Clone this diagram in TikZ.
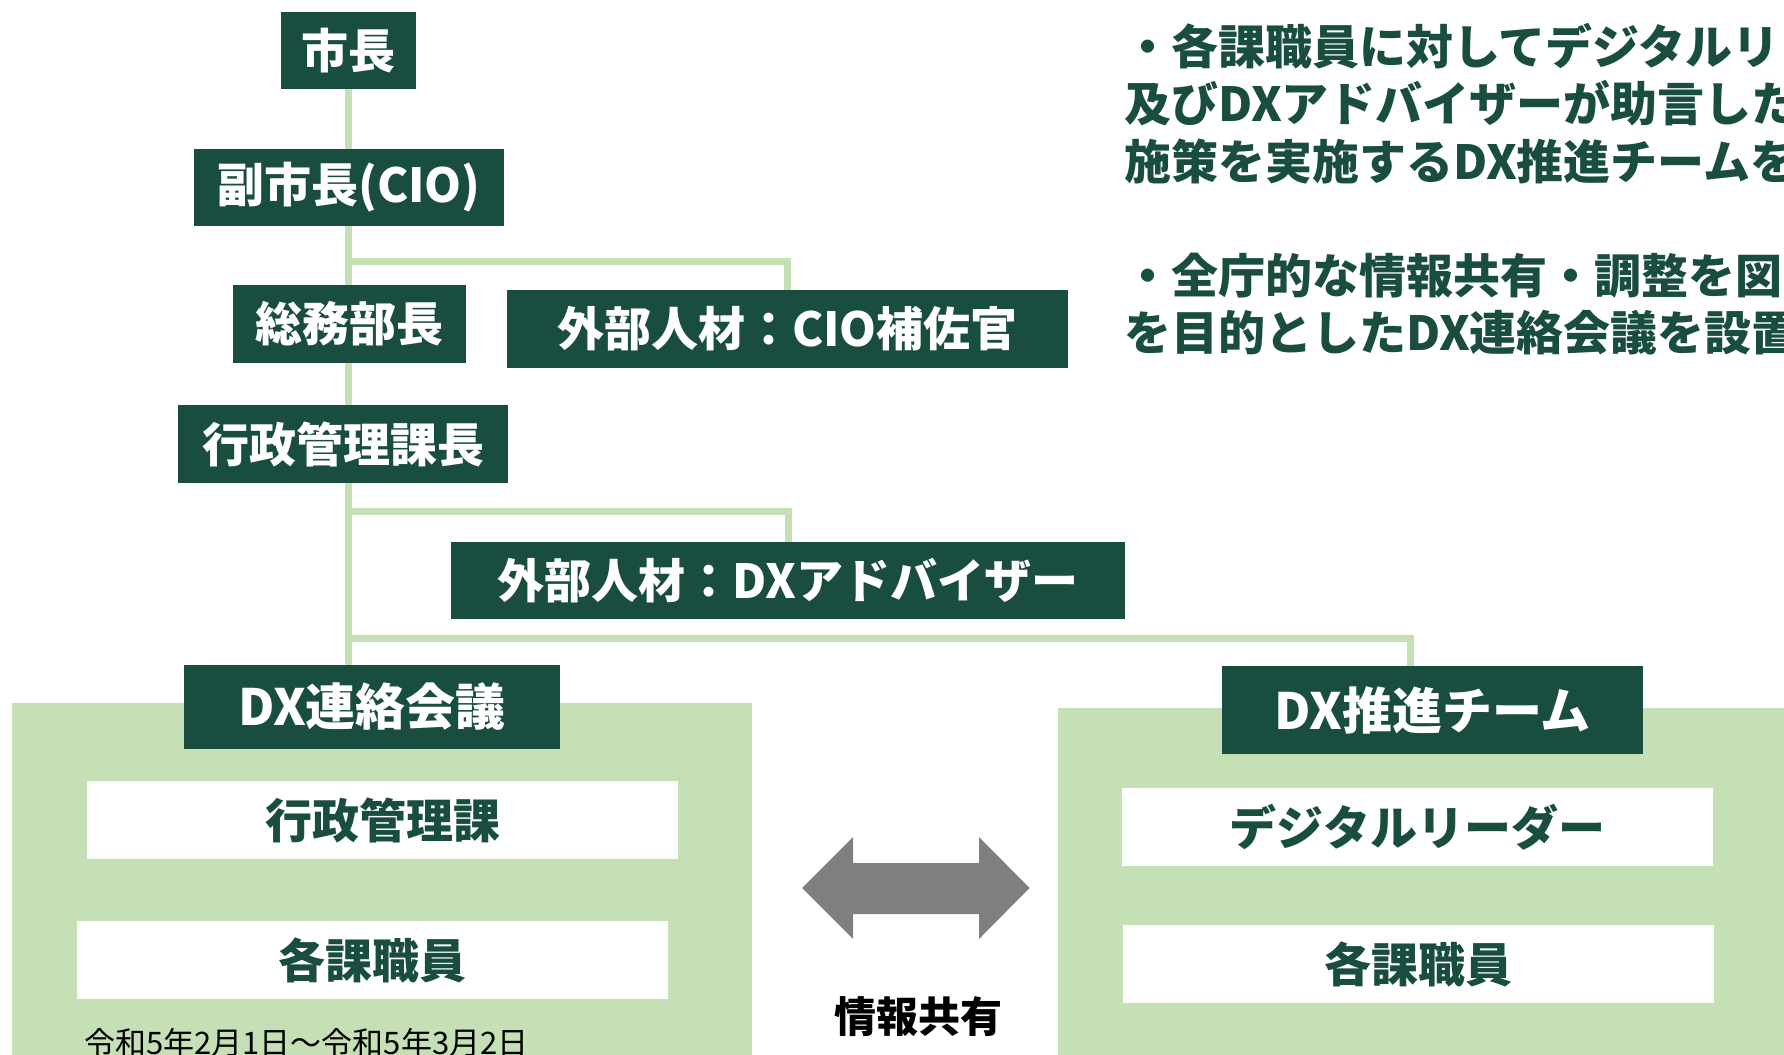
\documentclass[tikz,border=0pt]{standalone}
\usepackage{fontspec}
\newfontfamily\jp{Noto Sans CJK JP}
\usetikzlibrary{backgrounds}
\definecolor{dkgreen}{HTML}{184D40}
\definecolor{lgreen}{HTML}{C5E0B4}
\definecolor{arrgray}{HTML}{7F7F7F}
\tikzset{
  darkbox/.style={fill=dkgreen, text=white, inner sep=0pt, font=\jp\bfseries\fontsize{47}{56}\selectfont},
  headbox/.style={darkbox, font=\jp\bfseries\fontsize{50}{60}\selectfont},
  whitebox/.style={fill=white, text=dkgreen, inner sep=0pt, minimum width=591pt, minimum height=78pt, font=\jp\bfseries\fontsize{47}{56}\selectfont},
  panel/.style={fill=lgreen, draw=none, inner sep=0pt, anchor=north west},
  conn/.style={draw=lgreen, line width=7pt},
  para/.style={anchor=west, text=dkgreen, inner sep=0pt, font=\jp\bfseries\fontsize{47}{56}\selectfont},
}
\begin{document}
\begin{tikzpicture}[x=1pt,y=-1pt]
\useasboundingbox (0,0) rectangle (1784,1054);
\clip (0,0) rectangle (1784,1054);

% panels
\node[panel, minimum width=740pt, minimum height=400pt] (lpanel) at (12,703) {};
\node[panel, minimum width=740pt, minimum height=400pt] (rpanel) at (1058,708) {};

% org boxes
\node[darkbox, minimum width=135pt, minimum height=77pt] (mayor) at (348.5,50.5) {市長};
\node[darkbox, minimum width=310pt, minimum height=77pt] (vice) at (349,187.5) {副市長(CIO)};
\node[darkbox, minimum width=233pt, minimum height=78pt] (soumu) at (349.5,324) {総務部長};
\node[darkbox, minimum width=561pt, minimum height=78pt] (cio) at (787.5,329) {外部人材：CIO補佐官};
\node[darkbox, minimum width=330pt, minimum height=78pt] (chief) at (343,444) {行政管理課長};
\node[darkbox, minimum width=674pt, minimum height=77pt] (dxadv) at (788,580.5) {外部人材：DXアドバイザー};
\node[headbox, minimum width=376pt, minimum height=84pt] (dxmeet) at (372,707) {DX連絡会議};
\node[headbox, minimum width=421pt, minimum height=88pt] (dxteam) at (1432.5,710) {DX推進チーム};

% member boxes
\node[whitebox] (gkan) at (382.5,820) {行政管理課};
\node[whitebox] (kakuL) at (372.5,960) {各課職員};
\node[whitebox] (digital) at (1417.5,827) {デジタルリーダー};
\node[whitebox] (kakuR) at (1418.5,964) {各課職員};

% connectors
\coordinate (j1) at (348.5,261.5);
\coordinate (j2) at (348.5,511);
\coordinate (j3) at (348.5,638);
\coordinate (t3) at (1410,638);
\begin{scope}[on background layer]
\draw[conn] (mayor.south) -- (mayor.south |- dxmeet.north);
\draw[conn] (j1) -| (cio.north);
\draw[conn] (j2) -| (dxadv.north);
\draw[conn] (j3) -- (t3) -- (t3 |- dxteam.north);
\end{scope}

% information-sharing arrow
\fill[arrgray] (802,888) -- (853,837) -- (853,863) -- (979,863) -- (979,837) -- (1029.5,888)
  -- (979,939) -- (979,914) -- (853,914) -- (853,939) -- cycle;
\node[inner sep=0pt, text=black, font=\jp\bfseries\fontsize{42}{50}\selectfont] (share) at (918,1017) {情報共有};

% date
\node[anchor=west, inner sep=0pt, text=black, font=\jp\fontsize{31}{36}\selectfont] (date) at (84,1043) {令和5年2月1日～令和5年3月2日};

% explanation text
\node[para] (p1) at (1124,46) {・各課職員に対してデジタルリ};
\node[para] (p2) at (1124,103) {及びDXアドバイザーが助言した};
\node[para] (p3) at (1124,161) {施策を実施するDX推進チームを};
\node[para] (p4) at (1124,276) {・全庁的な情報共有・調整を図};
\node[para] (p5) at (1124,333) {を目的としたDX連絡会議を設置};
\end{tikzpicture}
\end{document}
